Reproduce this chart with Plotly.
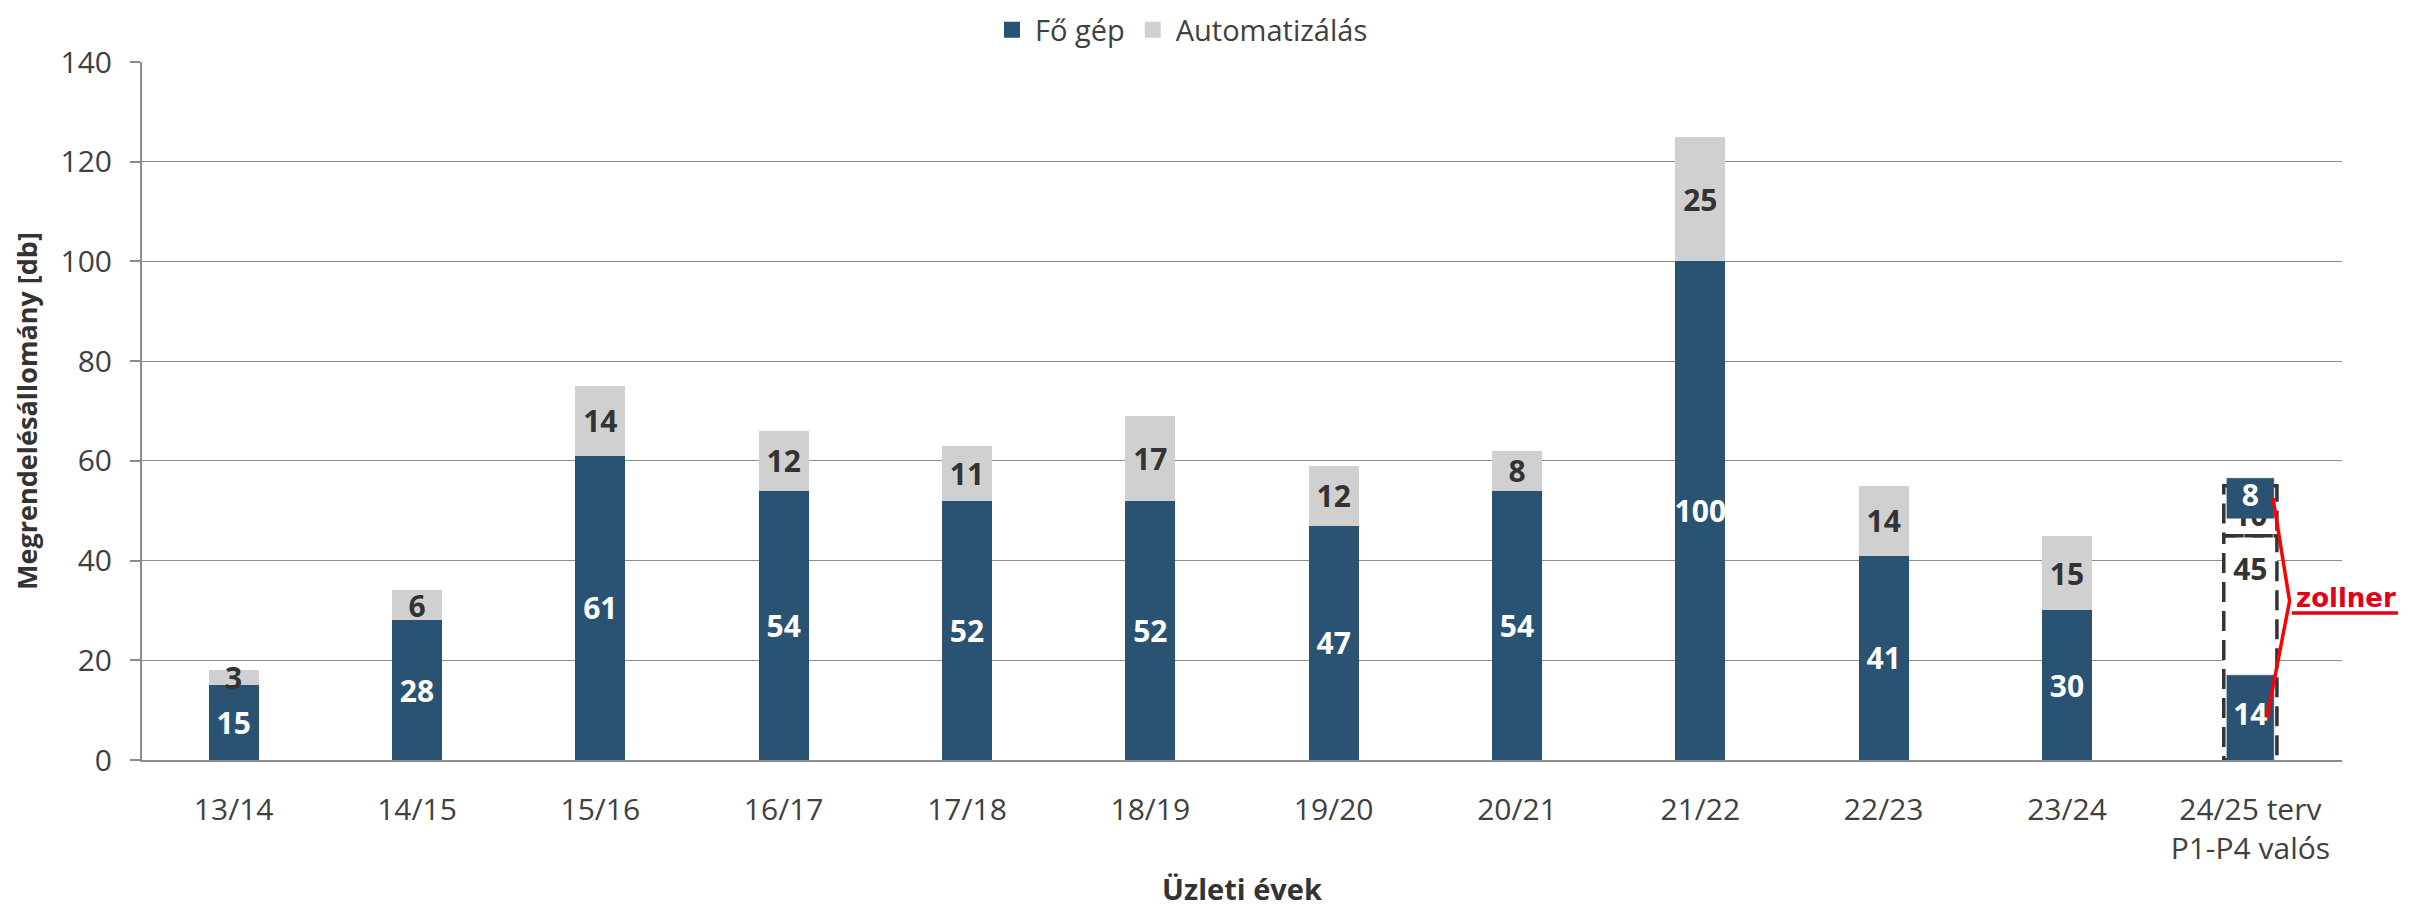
import plotly.graph_objects as go

# ---------------- data ----------------
categories = ["13/14", "14/15", "15/16", "16/17", "17/18", "18/19", "19/20",
              "20/21", "21/22", "22/23", "23/24", "24/25 terv<br>P1-P4 valós"]
fo_gep = [15, 28, 61, 54, 52, 52, 47, 54, 100, 41, 30, None]
automatizalas = [3, 6, 14, 12, 11, 17, 12, 8, 25, 14, 15, None]

# 24/25 plan (dashed, unfilled stack) and P1-P4 actual boxes
plan_fo_gep = 45
plan_automatizalas = 10
actual_labels = ["14", "8"]
actual_base = [0, 48.5]
actual_height = [17, 8]

# ---------------- styles ----------------
BLUE = "#2A5273"
GREY = "#D0D0D0"
TXT = "#404040"
DARK = "#333333"
GRID = "#8C8C8C"
FONT = "Open Sans"

x_idx = list(range(len(categories)))
last = len(categories) - 1

fig = go.Figure()

fig.add_trace(go.Bar(
    name="Fő gép", x=x_idx, y=fo_gep, marker_color=BLUE, marker_line_width=0,
    text=[str(v) if v is not None else "" for v in fo_gep],
    textposition="inside", insidetextanchor="middle", textangle=0, constraintext="none",
    textfont=dict(family=FONT, size=30, color="white", weight="bold"),
    hoverinfo="skip", showlegend=False,
))
fig.add_trace(go.Bar(
    name="Automatizálás", x=x_idx, y=automatizalas, marker_color=GREY, marker_line_width=0,
    text=[str(v) if v is not None else "" for v in automatizalas],
    textposition="inside", insidetextanchor="middle", textangle=0, constraintext="none",
    textfont=dict(family=FONT, size=30, color=DARK, weight="bold"),
    hoverinfo="skip", showlegend=False,
))

# legend entries (square swatches)
for nm, col in [("Fő gép", BLUE), ("Automatizálás", GREY)]:
    fig.add_trace(go.Scatter(
        x=[None], y=[None], mode="markers", name=nm,
        marker=dict(symbol="square", size=19, color=col),
        hoverinfo="skip",
    ))

# dashed plan boxes (white filled, covering gridlines)
pw = 0.145
px0, px1 = last - pw, last + pw
seg_bounds = [(0, plan_fo_gep), (plan_fo_gep, plan_fo_gep + plan_automatizalas)]
bx, by = [], []
for lo, hi in seg_bounds:
    bx += [px0, px1, px1, px0, px0, None]
    by += [lo, lo, hi, hi, lo, None]
fig.add_trace(go.Scatter(
    x=bx, y=by, mode="lines", fill="toself", fillcolor="white",
    line=dict(color=DARK, width=3.5, dash="20px,9px"),
    showlegend=False, hoverinfo="skip",
))
# plan labels
fig.add_trace(go.Scatter(
    x=[last, last], y=[plan_fo_gep - 7.4, plan_fo_gep + 3.4],
    mode="text", text=[str(plan_fo_gep), str(plan_automatizalas)],
    textfont=dict(family=FONT, size=30, color=DARK, weight="bold"),
    showlegend=False, hoverinfo="skip",
))

# actual boxes
aw = 0.128
rx, ry = [], []
for b, h in zip(actual_base, actual_height):
    rx += [last - aw, last + aw, last + aw, last - aw, last - aw, None]
    ry += [b, b, b + h, b + h, b, None]
fig.add_trace(go.Scatter(
    x=rx, y=ry, mode="lines", fill="toself", fillcolor=BLUE,
    line=dict(color=BLUE, width=0.5), showlegend=False, hoverinfo="skip",
))
fig.add_trace(go.Scatter(
    x=[last, last], y=[b + h / 2 for b, h in zip(actual_base, actual_height)],
    mode="text", text=actual_labels,
    textfont=dict(family=FONT, size=30, color="white", weight="bold"),
    showlegend=False, hoverinfo="skip",
))

# red connector lines to the "zollner" label
top_c = actual_base[1] + actual_height[1] / 2
bot_c = actual_base[0] + actual_height[0] / 2
fig.add_trace(go.Scatter(
    x=[last + 0.124, last + 0.214, last + 0.091],
    y=[top_c, (top_c + bot_c) / 2 + 1.4, bot_c],
    mode="lines", line=dict(color="#FF0000", width=3.5),
    showlegend=False, hoverinfo="skip", cliponaxis=False,
))

# page has an 8px body margin: lay out in page pixels, then shift
OFF = 8
W, H = 2419 - 2 * OFF, 916 - 2 * OFF
PL, PR, PT, PB = 142, 2342, 62, 760          # plot area in page pixels
ML, MT = PL - OFF, PT - OFF
MR = W - (PR - OFF)
MB = H - (PB - OFF)
pw_px = PR - PL
ph_px = PB - PT


def px_x(xp):
    return (xp - PL) / pw_px


def px_y(yp):
    return (PB - yp) / ph_px


fig.add_annotation(
    x=px_x(2294), y=px_y(598), xref="paper", yref="paper",
    xanchor="left", yanchor="middle", showarrow=False,
    text="<b>zollner</b>",
    font=dict(family="DejaVu Sans", size=26, color="#E2001A"),
)
fig.add_shape(
    type="line", xref="paper", yref="paper",
    x0=px_x(2292), x1=px_x(2398), y0=px_y(613), y1=px_y(613),
    line=dict(color="#E2001A", width=3.5),
)

fig.update_layout(
    width=W, height=H,
    margin=dict(l=ML, r=MR, t=MT, b=MB, autoexpand=False),
    barmode="stack", bargap=0.726,
    plot_bgcolor="white", paper_bgcolor="white",
    font=dict(family=FONT, size=30, color=TXT),
    legend=dict(
        orientation="h", xref="container", yref="container",
        x=(1181 - OFF) / W, xanchor="center", y=1 - (30 - OFF) / H, yanchor="middle",
        font=dict(family=FONT, size=29, color=TXT),
        traceorder="normal", itemwidth=36,
    ),
    xaxis=dict(
        range=[-0.5, len(categories) - 0.5],
        tickmode="array", tickvals=x_idx, ticktext=categories,
        showgrid=False, zeroline=False,
        showline=True, linecolor=GRID, linewidth=2,
        ticks="", ticklabelstandoff=22,
        tickfont=dict(family=FONT, size=30, color=TXT),
        title=dict(text="<b>Üzleti évek</b>", standoff=27,
                   font=dict(family=FONT, size=29, color=DARK)),
    ),
    yaxis=dict(
        range=[0, 140], dtick=20,
        showgrid=True, gridcolor=GRID, gridwidth=1.3,
        zeroline=False,
        showline=True, linecolor=GRID, linewidth=2,
        ticks="outside", ticklen=10, tickcolor=GRID, tickwidth=1.5,
        ticklabelstandoff=12,
        tickfont=dict(family=FONT, size=30, color=TXT),
        title=dict(text="<b>Megrendelésállomány [db]</b>", standoff=16,
                   font=dict(family=FONT, size=27, color=DARK)),
    ),
)

fig.write_html("out.html")
